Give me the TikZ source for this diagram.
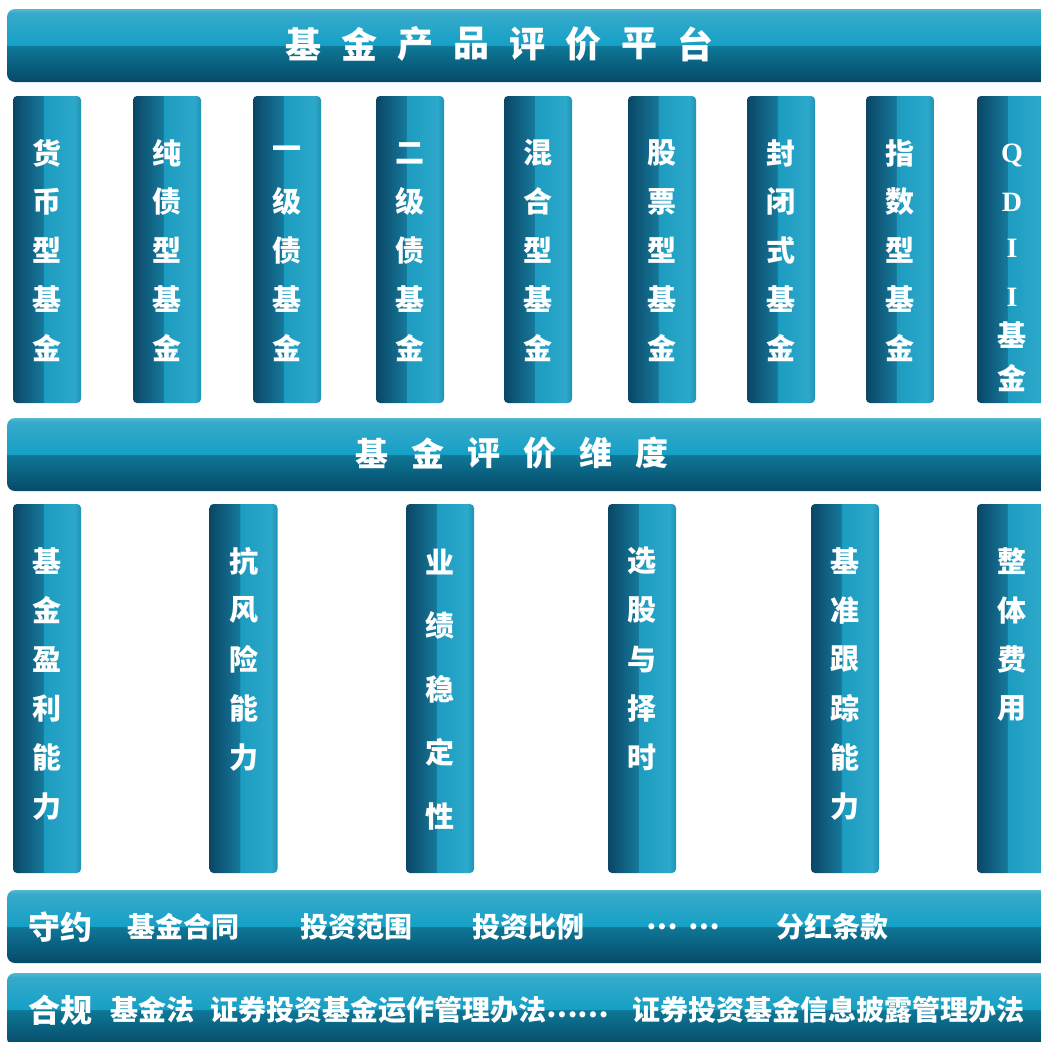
\documentclass[tikz,border=0pt]{standalone}
\usepackage{fontspec}
\newfontfamily\cjk{Noto Sans CJK SC}
\newfontfamily\qfont{Liberation Serif}
\definecolor{cdark}{HTML}{0A4666}
\definecolor{cmid}{HTML}{16789A}
\definecolor{clight}{HTML}{1C9CC0}
\definecolor{clight2}{HTML}{2CA8CA}
\definecolor{cedge}{HTML}{2192B6}
\definecolor{bdark}{HTML}{054A68}
\definecolor{bmid}{HTML}{0F7797}
\definecolor{blight}{HTML}{16A0C6}
\definecolor{btop}{HTML}{36AACA}
\definecolor{bhigh}{HTML}{52B8D2}
\pgfdeclarehorizontalshading{colshade}{100bp}{color(0bp)=(cdark); color(25bp)=(cdark); color(47bp)=(cmid); color(47.6bp)=(clight); color(70bp)=(clight2); color(75bp)=(cedge); color(100bp)=(cedge)}
\pgfdeclareverticalshading{barshade}{100bp}{color(0bp)=(bdark); color(25bp)=(bdark); color(49.6bp)=(bmid); color(50.2bp)=(blight); color(72bp)=(btop); color(75bp)=(bhigh); color(100bp)=(bhigh)}
\newcommand\vstack[6]{%
  \foreach \ch [count=\k from 0] in {#6}{\node[#5] (#1-\k) at ({#2},{#3+\k*#4}) {\ch};}}
\tikzset{
  colbox/.style={rectangle, inner sep=0pt, minimum width=68pt, rounded corners=4pt, shade, shading=colshade},
  bar/.style={rectangle, inner sep=0pt, minimum width=1043pt, minimum height=73pt, rounded corners=8pt, shade, shading=barshade},
  vch/.style={inner sep=0pt, text=white, font=\cjk\bfseries\fontsize{29}{29}\selectfont},
  lch/.style={inner sep=0pt, text=white, font=\qfont\bfseries\fontsize{28}{28}\selectfont},
  titlech/.style={inner sep=0pt, text=white, font=\cjk\bfseries\fontsize{36}{36}\selectfont},
  subtitlech/.style={inner sep=0pt, text=white, font=\cjk\bfseries\fontsize{33}{33}\selectfont},
  rowtxt/.style={inner sep=0pt, text=white, font=\cjk\bfseries\fontsize{28}{28}\selectfont},
  rowhead/.style={inner sep=0pt, text=white, font=\cjk\bfseries\fontsize{32}{32}\selectfont},
}
\begin{document}
\begin{tikzpicture}[x=1pt,y=-1pt]
\useasboundingbox (0,0) rectangle (1041,1042);
\fill[white] (0,0) rectangle (1041,1042);
\clip (0,0) rectangle (1041,1042);
% banners
\node[bar] (platform) at (528.5,45.5) {};
\node[bar] (dimension) at (528.5,454.5) {};
\node[bar] (contract) at (528.5,926.5) {};
\node[bar] (compliance) at (528.5,1009.5) {};
% titles
\foreach \ch [count=\k from 0] in {基,金,产,品,评,价,平,台}
  \node[titlech] (t-\k) at ({303+\k*56.1},44) {\ch};
\foreach \ch [count=\k from 0] in {基,金,评,价,维,度}
  \node[subtitlech] (s-\k) at ({372+\k*56},453) {\ch};
% row 1 columns
\foreach \n/\x in {a1/47,a2/167,a3/287,a4/410,a5/538,a6/662,a7/781,a8/900,a9/1011}
  \node[colbox, minimum height=307pt] (\n) at (\x,249.5) {};
\vstack{a1t}{47}{153}{48.75}{vch}{货,币,型,基,金}
\vstack{a2t}{167}{153}{48.75}{vch}{纯,债,型,基,金}
\vstack{a3t}{287}{153}{48.75}{vch}{一,级,债,基,金}
\vstack{a4t}{410}{153}{48.75}{vch}{二,级,债,基,金}
\vstack{a5t}{538}{153}{48.75}{vch}{混,合,型,基,金}
\vstack{a6t}{662}{153}{48.75}{vch}{股,票,型,基,金}
\vstack{a7t}{781}{153}{48.75}{vch}{封,闭,式,基,金}
\vstack{a8t}{900}{153}{48.75}{vch}{指,数,型,基,金}
\node[lch] (a9t-0) at (1012,155) {Q};
\node[lch] (a9t-1) at (1012,202) {D};
\node[lch] (a9t-2) at (1012,248) {I};
\node[lch] (a9t-3) at (1012,297) {I};
\node[vch] (a9t-4) at (1012,335) {基};
\node[vch] (a9t-5) at (1012,378) {金};
% row 2 columns
\foreach \n/\x in {b1/47,b2/243.5,b3/440,b4/642,b5/845,b6/1011}
  \node[colbox, minimum height=369pt] (\n) at (\x,688.5) {};
\vstack{b1t}{47}{561}{49.2}{vch}{基,金,盈,利,能,力}
\vstack{b2t}{243.5}{561}{49.2}{vch}{抗,风,险,能,力}
\vstack{b3t}{440}{562}{63.5}{vch}{业,绩,稳,定,性}
\vstack{b4t}{642}{561}{49.2}{vch}{选,股,与,择,时}
\vstack{b5t}{845}{561}{49.2}{vch}{基,准,跟,踪,能,力}
\vstack{b6t}{1012}{561}{49.2}{vch}{整,体,费,用}
% row 3
\node[rowhead] (c-head) at (60,927) {守约};
\node[rowtxt] (c-1) at (183,927) {基金合同};
\node[rowtxt] (c-2) at (356,927) {投资范围};
\node[rowtxt] (c-3) at (528,927) {投资比例};
\node[rowtxt] (c-4) at (683,927) {…\hspace{10pt}…};
\node[rowtxt] (c-5) at (832,927) {分红条款};
% row 4
\node[rowhead] (d-head) at (60,1010) {合规};
\node[rowtxt] (d-1) at (152,1010) {基金法};
\node[rowtxt, anchor=west] (d-2) at (210,1010) {证券投资基金运作管理办法\raisebox{3pt}{……}};
\node[rowtxt, anchor=west] (d-3) at (632,1010) {证券投资基金信息披露管理办法};
\end{tikzpicture}
\end{document}
